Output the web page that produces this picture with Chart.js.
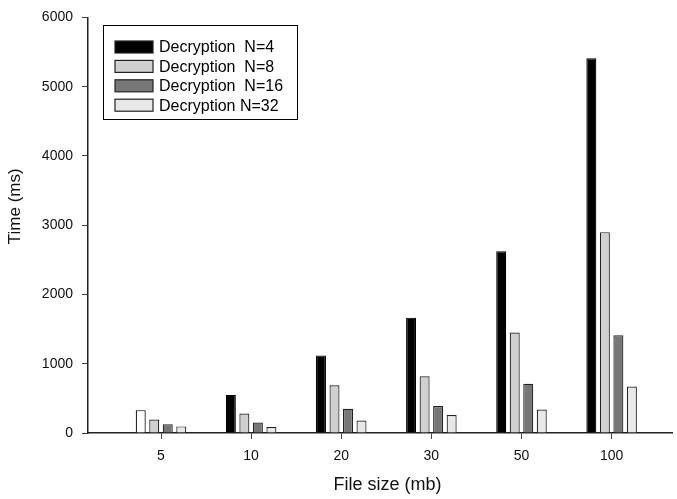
<!DOCTYPE html>
<html>
<head>
<meta charset="utf-8">
<script src="https://cdn.jsdelivr.net/npm/chart.js@4"></script>
<style>
  html, body { margin: 0; padding: 0; background: #fff; }
  #wrap { width: 677px; height: 499px; }
</style>
</head>
<body>
<div id="wrap"><canvas id="chart"></canvas></div>
<script>
// file sizes (mb) on the x axis
const categories = ['5', '10', '20', '30', '50', '100'];

// decryption time (ms) per group size
const decN4 = [330, 550, 1120, 1665, 2625, 5410];
const decN8 = [195, 282, 690, 820, 1450, 2900];
const decN16 = [125, 150, 350, 390, 710, 1410];
const decN32 = [95, 85, 180, 260, 340, 670];

const seriesLabels = ['Decryption  N=4', 'Decryption  N=8', 'Decryption  N=16', 'Decryption N=32'];
const yTicks = [0, 1000, 2000, 3000, 4000, 5000, 6000];

const FONT = 'Liberation Sans, Arial, sans-serif';

function toPoints(arr) {
    return arr.map((v, i) => ({ x: i, y: v }));
}

// first black bar is drawn hollow in the original
const n4Fill = decN4.map((v, i) => i === 0 ? '#ffffff' : '#000000');

const boxedLegend = {
    id: 'boxedLegend',
    afterDraw(chart) {
        const ctx = chart.ctx;
        const x0 = 103, y0 = 25, w = 194, h = 94;
        ctx.save();
        ctx.strokeStyle = '#000';
        ctx.lineWidth = 1;
        ctx.strokeRect(x0 + 0.5, y0 + 0.5, w, h);
        ctx.font = '16px ' + FONT;
        ctx.textBaseline = 'middle';
        chart.data.datasets.forEach((ds, i) => {
            const cy = y0 + 22 + i * 19.4;
            const fill = i === 0 ? '#000000' : ds.backgroundColor;
            ctx.fillStyle = fill;
            ctx.fillRect(115, cy - 6, 38, 12);
            ctx.strokeStyle = '#222';
            ctx.lineWidth = 1.2;
            ctx.strokeRect(115, cy - 6, 38, 12);
            ctx.fillStyle = '#000';
            ctx.fillText(ds.label, 159, cy + 1);
        });
        ctx.restore();
    }
};

new Chart(document.getElementById('chart'), {
    type: 'bar',
    data: {
        datasets: [
            { label: seriesLabels[0], data: toPoints(decN4), backgroundColor: n4Fill, borderColor: '#000', borderWidth: 1.2 },
            { label: seriesLabels[1], data: toPoints(decN8), backgroundColor: '#d0d0d0', borderColor: '#222', borderWidth: 1.2 },
            { label: seriesLabels[2], data: toPoints(decN16), backgroundColor: '#777777', borderColor: '#222', borderWidth: 1.2 },
            { label: seriesLabels[3], data: toPoints(decN32), backgroundColor: '#e8e8e8', borderColor: '#222', borderWidth: 1.2 }
        ]
    },
    options: {
        responsive: true,
        maintainAspectRatio: false,
        animation: false,
        categoryPercentage: 0.6,
        barPercentage: 0.74,
        layout: { padding: { top: 15, right: 5, left: 0, bottom: 0 } },
        plugins: {
            legend: { display: false },
            tooltip: { enabled: false }
        },
        scales: {
            x: {
                type: 'linear',
                min: -0.81,
                max: 5.67,
                offset: false,
                afterFit: (s) => { s.height = 66; },
                afterBuildTicks: (s) => {
                    s.ticks = categories.map((c, i) => ({ value: i }));
                },
                grid: { offset: false, drawOnChartArea: false, tickLength: 6, color: '#444', lineWidth: 1 },
                border: { color: '#222', width: 1.5 },
                ticks: {
                    color: '#111',
                    font: { family: FONT, size: 14 },
                    padding: 9,
                    maxRotation: 0,
                    callback: (v) => categories[v]
                },
                title: {
                    display: true,
                    text: '   File size (mb)',
                    color: '#111',
                    font: { family: FONT, size: 18 },
                    padding: { top: 0, bottom: 3 }
                }
            },
            y: {
                min: 0,
                max: 6000,
                afterFit: (s) => { s.width = 88; },
                afterBuildTicks: (s) => {
                    s.ticks = yTicks.map(v => ({ value: v }));
                },
                grid: { drawOnChartArea: false, tickLength: 6, color: '#444', lineWidth: 1 },
                border: { color: '#222', width: 1.5 },
                ticks: {
                    color: '#111',
                    font: { family: FONT, size: 14 },
                    padding: 9,
                    callback: (v) => String(v)
                },
                title: {
                    display: true,
                    text: '        Time (ms)',
                    color: '#111',
                    font: { family: FONT, size: 17 },
                    padding: { top: 5, bottom: 0 }
                }
            }
        }
    },
    plugins: [boxedLegend]
});
</script>
</body>
</html>
